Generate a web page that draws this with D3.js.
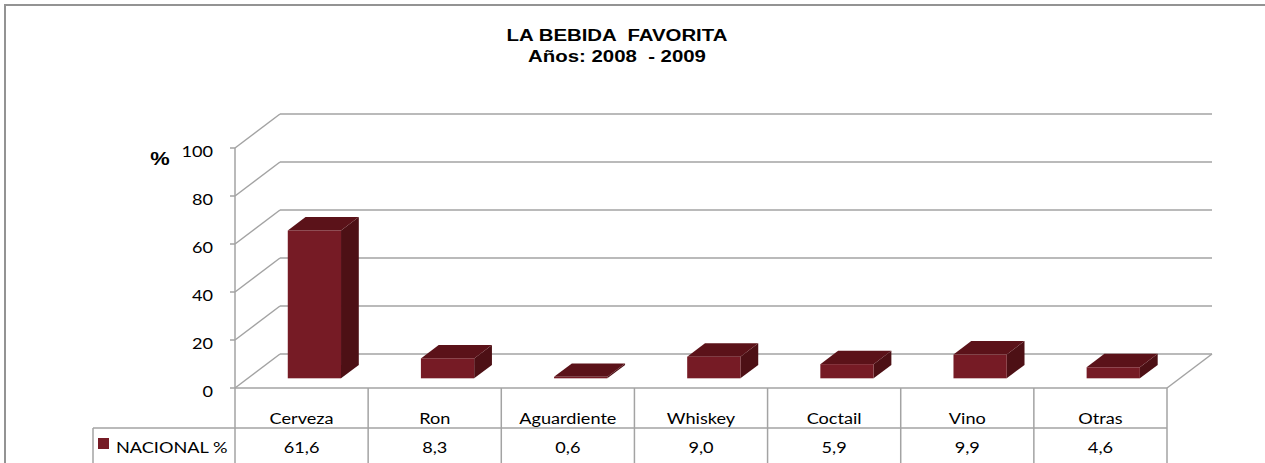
<!DOCTYPE html>
<html>
<head>
<meta charset="utf-8">
<script src="https://cdn.jsdelivr.net/npm/d3@7"></script>
<style>
  body { margin: 0; background: #fff; }
  svg { display: block; }
</style>
</head>
<body>
<div id="chart"></div>
<script>
// data
var categories = ["Cerveza", "Ron", "Aguardiente", "Whiskey", "Coctail", "Vino", "Otras"];
var values = [61.6, 8.3, 0.6, 9.0, 5.9, 9.9, 4.6];
var valueLabels = ["61,6", "8,3", "0,6", "9,0", "5,9", "9,9", "4,6"];
var yTicks = [0, 20, 40, 60, 80, 100];
var seriesName = "NACIONAL %";
var titleLines = ["LA BEBIDA  FAVORITA", "Años: 2008  - 2009"];

var W = 1265, H = 463;
var SX = 1.25; // the original is stretched sideways
var depthX = 45, depthY = -34; // offset of the back wall

var svg = d3.select("#chart").append("svg")
	.attr("width", W)
	.attr("height", H);

var x = d3.scaleBand()
	.domain(categories)
	.range([235, 1167])
	.paddingInner(0)
	.paddingOuter(0);
var y = d3.scaleLinear()
	.domain([0, 100])
	.range([388, 148]);

var gridColor = "#a3a3a3";

function stext(g, tx, ty, str, anchor, size, font, weight, sx) {
	return g.append("text")
		.attr("transform", "translate(" + tx + "," + ty + ") scale(" + sx + ",1)")
		.attr("text-anchor", anchor)
		.style("font-family", font)
		.style("font-size", size + "px")
		.style("font-weight", weight)
		.style("white-space", "pre")
		.attr("fill", "#000")
		.text(str);
}

// outer border
svg.append("rect")
	.attr("x", 5).attr("y", 5)
	.attr("width", 1300).attr("height", 500)
	.attr("fill", "none")
	.attr("stroke", "#939393")
	.attr("stroke-width", 2);

// title
stext(svg, 617, 41, titleLines[0], "middle", 17, "Liberation Sans, Arial, sans-serif", "bold", 1.2);
stext(svg, 617, 62, titleLines[1], "middle", 17, "Liberation Sans, Arial, sans-serif", "bold", 1.2);

// walls
var walls = svg.append("g")
	.attr("stroke", gridColor)
	.attr("stroke-width", 1.5)
	.attr("fill", "none");

var x0 = x.range()[0], x1 = x.range()[1];

yTicks.forEach(function(t) {
	// left wall diagonal
	walls.append("line")
		.attr("x1", x0).attr("y1", y(t))
		.attr("x2", x0 + depthX).attr("y2", y(t) + depthY);
	// back wall line
	walls.append("line")
		.attr("x1", x0 + depthX).attr("y1", y(t) + depthY)
		.attr("x2", x1 + depthX).attr("y2", y(t) + depthY);
	// tick mark
	walls.append("line")
		.attr("x1", x0 - 5).attr("y1", y(t))
		.attr("x2", x0).attr("y2", y(t));
});

// floor right edge + front axis
walls.append("line")
	.attr("x1", x1).attr("y1", y(0))
	.attr("x2", x1 + depthX).attr("y2", y(0) + depthY);
walls.append("line")
	.attr("x1", x0).attr("y1", y(100))
	.attr("x2", x0).attr("y2", y(0));
walls.append("line")
	.attr("x1", x0).attr("y1", y(0))
	.attr("x2", x1).attr("y2", y(0));

// y tick labels
var labelFont = "Lato, 'Open Sans', sans-serif";
yTicks.forEach(function(t) {
	stext(svg, 213, y(t) + 9, String(t), "end", 14.5, labelFont, "normal", SX);
});
stext(svg, 160, 165, "%", "middle", 19, "Liberation Sans, Arial, sans-serif", "bold", 1.15);

// 3D bars
var d1 = 0.285, d2 = 0.68;
var bw = x.bandwidth() * 0.4;
var front = "#761b25", topC = "#5b1219", sideC = "#4d1015";

var bars = svg.append("g");
categories.forEach(function(c, i) {
	var cx = x(c) + x.bandwidth() / 2;
	var fl = cx - bw / 2 + depthX * d1, fr = cx + bw / 2 + depthX * d1;
	var fb = y(0) + depthY * d1, ft = y(values[i]) + depthY * d1;
	var ox = depthX * (d2 - d1), oy = depthY * (d2 - d1);
	// side
	bars.append("path")
		.attr("d", "M" + fr + "," + fb + "L" + fr + "," + ft + "L" + (fr + ox) + "," + (ft + oy) + "L" + (fr + ox) + "," + (fb + oy) + "Z")
		.attr("fill", sideC);
	// top
	bars.append("path")
		.attr("d", "M" + fl + "," + ft + "L" + fr + "," + ft + "L" + (fr + ox) + "," + (ft + oy) + "L" + (fl + ox) + "," + (ft + oy) + "Z")
		.attr("fill", topC);
	// front
	bars.append("rect")
		.attr("x", fl).attr("y", ft)
		.attr("width", fr - fl).attr("height", Math.max(0, fb - ft))
		.attr("fill", front);
});

// data table
var table = svg.append("g")
	.attr("stroke", gridColor)
	.attr("stroke-width", 1.5);

categories.forEach(function(c) {
	table.append("line")
		.attr("x1", x(c)).attr("y1", y(0))
		.attr("x2", x(c)).attr("y2", H + 5);
});
table.append("line")
	.attr("x1", x1).attr("y1", y(0))
	.attr("x2", x1).attr("y2", H + 5);
table.append("line")
	.attr("x1", 93).attr("y1", 428)
	.attr("x2", x1).attr("y2", 428);
table.append("line")
	.attr("x1", 93).attr("y1", 428)
	.attr("x2", 93).attr("y2", H + 5);

categories.forEach(function(c, i) {
	var cx = x(c) + x.bandwidth() / 2;
	stext(svg, cx, 424, c, "middle", 14.5, labelFont, "normal", SX);
	stext(svg, cx, 453, valueLabels[i], "middle", 14.5, labelFont, "normal", SX);
});

// legend key
svg.append("rect")
	.attr("x", 98).attr("y", 438)
	.attr("width", 11).attr("height", 11)
	.attr("fill", front);
stext(svg, 116, 453, seriesName, "start", 14.5, labelFont, "normal", SX);
</script>
</body>
</html>
